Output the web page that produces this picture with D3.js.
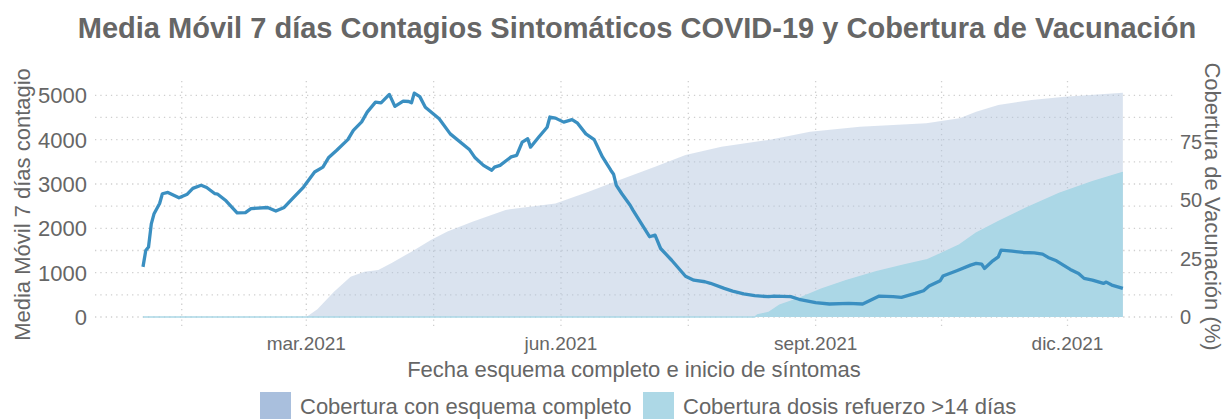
<!DOCTYPE html>
<html>
<head>
<meta charset="utf-8">
<script src="https://cdn.jsdelivr.net/npm/d3@7"></script>
<style>
body { margin: 0; background: #fff; }
text { font-family: "Liberation Sans", Arial, sans-serif; fill: #666; }
</style>
</head>
<body>
<script>
// media movil 7 dias de contagios sintomaticos
var casosFechas = ["2021-01-01","2021-01-02","2021-01-03","2021-01-04","2021-01-05","2021-01-07","2021-01-08","2021-01-10",
	"2021-01-14","2021-01-17","2021-01-19","2021-01-22","2021-01-24","2021-01-27","2021-01-28","2021-01-31",
	"2021-02-04","2021-02-07","2021-02-09","2021-02-15","2021-02-18","2021-02-21","2021-02-24","2021-02-28",
	"2021-03-04","2021-03-07","2021-03-09","2021-03-12","2021-03-16","2021-03-18","2021-03-21","2021-03-23",
	"2021-03-26","2021-03-28","2021-03-31","2021-04-02","2021-04-05","2021-04-07","2021-04-08","2021-04-09",
	"2021-04-11","2021-04-13","2021-04-18","2021-04-22","2021-04-29","2021-05-01","2021-05-04","2021-05-07",
	"2021-05-08","2021-05-10","2021-05-14","2021-05-16","2021-05-18","2021-05-20","2021-05-21","2021-05-24",
	"2021-05-27","2021-05-28","2021-05-30","2021-06-02","2021-06-05","2021-06-07","2021-06-10","2021-06-13",
	"2021-06-16","2021-06-19","2021-06-20","2021-06-21","2021-06-23","2021-06-26","2021-06-27","2021-06-30",
	"2021-07-03","2021-07-05","2021-07-07","2021-07-11","2021-07-16","2021-07-19","2021-07-23","2021-07-25",
	"2021-07-30","2021-08-02","2021-08-06","2021-08-10","2021-08-15","2021-08-17","2021-08-23","2021-08-26",
	"2021-09-01","2021-09-06","2021-09-13","2021-09-18","2021-09-21","2021-09-24","2021-09-29","2021-10-02",
	"2021-10-07","2021-10-10","2021-10-12","2021-10-16","2021-10-17","2021-10-22","2021-10-27","2021-10-29",
	"2021-10-31","2021-11-01","2021-11-04","2021-11-06","2021-11-07","2021-11-11","2021-11-15","2021-11-19",
	"2021-11-22","2021-11-24","2021-11-27","2021-12-02","2021-12-05","2021-12-07","2021-12-10","2021-12-14",
	"2021-12-15","2021-12-17","2021-12-21"];
var casosValores = [1130,1500,1580,2100,2330,2560,2780,2810,
	2690,2770,2900,2970,2920,2780,2770,2620,
	2350,2355,2445,2470,2390,2470,2670,2930,
	3270,3380,3590,3760,4000,4210,4400,4620,
	4845,4830,5020,4750,4870,4860,4830,5050,
	4970,4730,4470,4130,3770,3590,3420,3310,
	3380,3420,3610,3645,3945,4020,3830,4060,
	4280,4510,4485,4395,4450,4370,4130,4000,
	3610,3310,3220,2970,2780,2520,2410,2110,
	1810,1845,1545,1280,920,830,795,760,
	645,585,520,480,458,473,458,400,
	322,293,308,293,383,473,458,443,
	533,593,698,818,923,1043,1170,1208,
	1193,1095,1267,1357,1508,1485,1455,1447,
	1418,1343,1267,1073,983,871,833,758,
	787,720,645];

// cobertura con esquema completo (%)
var esquemaFechas = ["2021-01-01","2021-03-01","2021-03-05","2021-03-11","2021-03-17","2021-03-22","2021-03-27","2021-04-01",
	"2021-04-08","2021-04-15","2021-04-21","2021-04-30","2021-05-12","2021-05-30","2021-06-11","2021-06-19",
	"2021-06-27","2021-07-05","2021-07-16","2021-07-29","2021-08-15","2021-08-30","2021-09-17","2021-10-11",
	"2021-10-23","2021-10-29","2021-11-06","2021-11-18","2021-11-30","2021-12-21"];
var esquemaValores = [0,0,3.3,10.8,17.3,19.4,20.1,23.3,
	28,33,36.6,40.8,45.9,48.7,53.7,57.3,
	60.9,64.4,69.4,73,75.9,79.4,81.6,83,
	85.2,88,90.9,93,94.4,96.1];

// cobertura dosis refuerzo >14 dias (%)
var refuerzoFechas = ["2021-01-01","2021-08-10","2021-08-11","2021-08-15","2021-08-19","2021-08-26","2021-09-03","2021-09-12",
	"2021-09-23","2021-10-03","2021-10-11","2021-10-16","2021-10-23","2021-10-29","2021-11-06","2021-11-16",
	"2021-11-28","2021-12-10","2021-12-21"];
var refuerzoValores = [0,0,0.9,1.9,5.1,8,11.9,15.6,
	19.4,22.3,24.4,27,30.9,35.9,40.9,46.6,
	53,58,62];

var yTicks = [0,1000,2000,3000,4000,5000];
var y2Ticks = [0,25,50,75];
var xTickFechas = ["2021-03-01","2021-06-01","2021-09-01","2021-12-01"];
var xTickEtiquetas = ["mar.2021","jun.2021","sept.2021","dic.2021"];
var leyenda = ["Cobertura con esquema completo","Cobertura dosis refuerzo >14 días"];

var width = 1225;
var height = 419;
var panel = {left: 95, right: 1173, top: 81, bottom: 328};

var svg = d3.select("body").append("svg")
	.attr("width", width)
	.attr("height", height);

var x = d3.scaleUtc()
	.domain([new Date("2021-01-01"), new Date("2021-12-01")])
	.range([143, 1067.5]);
var y = d3.scaleLinear().domain([0, 5000]).range([317, 95.3]);
var y2 = d3.scaleLinear().domain([0, 100]).range([317, 83.7]);

// grid
var gridY = d3.range(0, 5001, 500);
svg.selectAll("line.gy")
	.data(gridY)
	.enter()
	.append("line")
	.attr("class", "gy")
	.attr("x1", panel.left)
	.attr("x2", panel.right)
	.attr("y1", function(d) { return y(d); })
	.attr("y2", function(d) { return y(d); })
	.attr("stroke", "#cfcfcf")
	.attr("stroke-width", 1.3)
	.attr("stroke-dasharray", "1.3,4");

var majors = xTickFechas.map(function(d) { return new Date(d); });
var gridX = majors.slice();
var prev = new Date("2020-12-01");
majors.forEach(function(d) {
	gridX.push(new Date((prev.getTime() + d.getTime()) / 2));
	prev = d;
});
svg.selectAll("line.gx")
	.data(gridX)
	.enter()
	.append("line")
	.attr("class", "gx")
	.attr("x1", function(d) { return x(d); })
	.attr("x2", function(d) { return x(d); })
	.attr("y1", panel.top)
	.attr("y2", panel.bottom)
	.attr("stroke", "#cfcfcf")
	.attr("stroke-width", 1.3)
	.attr("stroke-dasharray", "1.3,4");

// areas
var esquema = esquemaFechas.map(function(d, i) { return {f: new Date(d), v: esquemaValores[i]}; });
var refuerzo = refuerzoFechas.map(function(d, i) { return {f: new Date(d), v: refuerzoValores[i]}; });
var casos = casosFechas.map(function(d, i) { return {f: new Date(d), v: casosValores[i]}; });

var area = d3.area()
	.x(function(d) { return x(d.f); })
	.y0(y2(0))
	.y1(function(d) { return y2(d.v); });

svg.append("path")
	.datum(esquema)
	.attr("d", area)
	.attr("fill", "#b0c4de")
	.attr("fill-opacity", 0.47);

svg.append("path")
	.datum(refuerzo)
	.attr("d", area)
	.attr("fill", "#abd7e6");

svg.append("path")
	.datum(refuerzo)
	.attr("d", d3.line().x(function(d) { return x(d.f); }).y(function(d) { return y2(d.v); }))
	.attr("fill", "none")
	.attr("stroke", "#abd7e6")
	.attr("stroke-width", 1.5);

svg.append("path")
	.datum(casos)
	.attr("d", d3.line().x(function(d) { return x(d.f); }).y(function(d) { return y(d.v); }))
	.attr("fill", "none")
	.attr("stroke", "#3a8fc1")
	.attr("stroke-width", 3.3)
	.attr("stroke-linejoin", "round");

// axis labels
svg.selectAll("text.yl")
	.data(yTicks)
	.enter()
	.append("text")
	.attr("class", "yl")
	.text(function(d) { return d; })
	.attr("x", 87)
	.attr("y", function(d) { return y(d) + 8; })
	.attr("text-anchor", "end")
	.attr("font-size", "22px");

svg.selectAll("text.y2l")
	.data(y2Ticks)
	.enter()
	.append("text")
	.attr("class", "y2l")
	.text(function(d) { return d; })
	.attr("x", 1180)
	.attr("y", function(d) { return y2(d) + 7; })
	.attr("font-size", "20px");

svg.selectAll("text.xl")
	.data(xTickFechas)
	.enter()
	.append("text")
	.attr("class", "xl")
	.text(function(d, i) { return xTickEtiquetas[i]; })
	.attr("x", function(d) { return x(new Date(d)); })
	.attr("y", 350)
	.attr("text-anchor", "middle")
	.attr("font-size", "19px");

svg.append("text")
	.text("Fecha esquema completo e inicio de síntomas")
	.attr("x", (panel.left + panel.right) / 2)
	.attr("y", 377)
	.attr("text-anchor", "middle")
	.attr("font-size", "22px");

svg.append("text")
	.text("Media Móvil 7 días contagio")
	.attr("transform", "translate(30," + ((panel.top + panel.bottom) / 2) + ") rotate(-90)")
	.attr("text-anchor", "middle")
	.attr("font-size", "22px");

svg.append("text")
	.text("Cobertura de Vacunación (%)")
	.attr("transform", "translate(1205," + ((panel.top + panel.bottom) / 2 + 2) + ") rotate(90)")
	.attr("text-anchor", "middle")
	.attr("font-size", "22px");

svg.append("text")
	.text("Media Móvil 7 días Contagios Sintomáticos COVID-19 y Cobertura de Vacunación")
	.attr("x", 637)
	.attr("y", 38)
	.attr("text-anchor", "middle")
	.attr("font-size", "29px")
	.attr("font-weight", "bold");

// legend
var legX = [260, 643];
var legColor = ["#a9bfdd", "#add8e6"];
svg.selectAll("rect.leg")
	.data(leyenda)
	.enter()
	.append("rect")
	.attr("class", "leg")
	.attr("x", function(d, i) { return legX[i]; })
	.attr("y", 392)
	.attr("width", 31)
	.attr("height", 31)
	.attr("fill", function(d, i) { return legColor[i]; });

svg.selectAll("text.leg")
	.data(leyenda)
	.enter()
	.append("text")
	.attr("class", "leg")
	.text(function(d) { return d; })
	.attr("x", function(d, i) { return legX[i] + 40; })
	.attr("y", 414)
	.attr("font-size", "22px");
</script>
</body>
</html>
